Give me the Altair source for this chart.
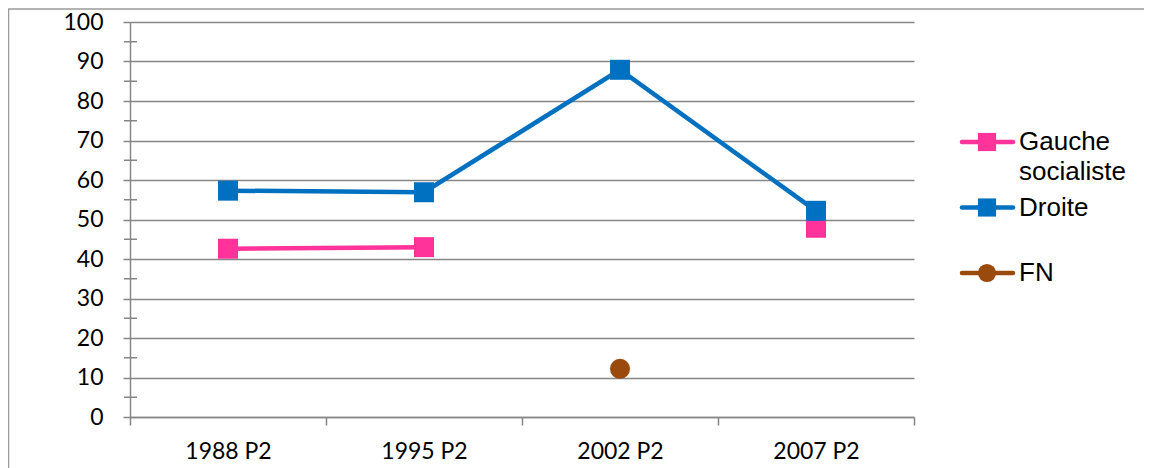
import altair as alt
import pandas as pd

categories = ["1988 P2", "1995 P2", "2002 P2", "2007 P2"]
series_names = ["Gauche socialiste", "Droite", "FN"]
gauche = [42.6, 43.0, None, 47.9]
droite = [57.3, 56.9, 87.9, 52.2]
fn = [None, None, 12.2, None]
colors = ["#FF3399", "#0070C0", "#9A4A0C"]
marker_shapes = ["square", "square", "circle"]
y_ticks = list(range(0, 101, 10))
minor_ticks = list(range(5, 100, 10))

rows = []
for name, vals in zip(series_names, [gauche, droite, fn]):
    seg = 0
    for c, v in zip(categories, vals):
        if v is None:
            seg += 1
            continue
        rows.append({"cat": c, "series": name, "value": v, "seg": f"{name}-{seg}"})
df = pd.DataFrame(rows)
legend_df = pd.DataFrame({"series": series_names})

GRID = "#868686"
AXIS_FONT = "Lato"

xscale = alt.Scale(type="band", domain=categories, paddingInner=0, paddingOuter=0)
yscale = alt.Scale(domain=[0, 100], nice=False, zero=True)

x_enc = alt.X(
    "cat:N", scale=xscale, sort=categories,
    axis=alt.Axis(title=None, labelAngle=0, tickBand="extent", ticks=True,
                  tickSize=8, tickColor=GRID, tickWidth=1.5,
                  domainColor=GRID, domainWidth=1.5, grid=False,
                  labelFont=AXIS_FONT, labelFontSize=23, labelColor="#000000",
                  labelPadding=15),
)
y_axis = alt.Axis(title=None, values=y_ticks, grid=True, gridColor=GRID, gridWidth=1.5,
                  tickSize=7, tickColor=GRID, tickWidth=1.5,
                  domainColor=GRID, domainWidth=1.5,
                  labelFont=AXIS_FONT, labelFontSize=23, labelColor="#000000",
                  labelPadding=20)

color_scale = alt.Scale(domain=series_names, range=colors)
shape_scale = alt.Scale(domain=series_names, range=marker_shapes)

lines = alt.Chart(df).mark_line(strokeWidth=4.5, strokeCap="round").encode(
    x=x_enc,
    y=alt.Y("value:Q", scale=yscale, axis=y_axis),
    color=alt.Color("series:N", scale=color_scale, legend=None),
    detail="seg:N",
)

markers = alt.Chart(df).mark_point(filled=True, size=400, opacity=1).encode(
    x=x_enc,
    y=alt.Y("value:Q", scale=yscale, axis=None),
    color=alt.Color("series:N", scale=color_scale, legend=None),
    shape=alt.Shape("series:N", scale=shape_scale, legend=None),
)

minor = alt.Chart(pd.DataFrame({"v": minor_ticks})).mark_rule(color=GRID, strokeWidth=1.5).encode(
    y=alt.Y("v:Q", scale=yscale, axis=None),
    x=alt.value(-6), x2=alt.value(7),
)

# legend drawn from the series list
leg_y = alt.Y("series:N", scale=alt.Scale(type="point", domain=series_names,
                                          range=[120, 251], padding=0), axis=None)

leg_lines = alt.Chart(legend_df).mark_rule(strokeWidth=4.5, strokeCap="round").encode(
    y=leg_y, x=alt.value(832), x2=alt.value(883),
    color=alt.Color("series:N", scale=color_scale, legend=None),
)
leg_marks = alt.Chart(legend_df).mark_point(filled=True, size=330, opacity=1).encode(
    y=leg_y, x=alt.value(857),
    color=alt.Color("series:N", scale=color_scale, legend=None),
    shape=alt.Shape("series:N", scale=shape_scale, legend=None),
)
leg_text = alt.Chart(legend_df).mark_text(
    align="left", baseline="middle", font="Liberation Sans", fontSize=26,
    lineBreak=" ", lineHeight=30, color="#000000",
).encode(
    y=leg_y, x=alt.value(889), text="series:N",
)

frame = alt.Chart(pd.DataFrame({"a": [0]})).mark_rect(
    fillOpacity=0, stroke="#9a9a9a", strokeWidth=1.5
).encode(
    x=alt.value(-121.5), x2=alt.value(1100), y=alt.value(-13), y2=alt.value(600),
)

chart = alt.layer(
    lines, minor, markers, leg_lines, leg_marks, leg_text, frame
).resolve_scale(y="independent").properties(
    width=784, height=395,
    autosize=alt.AutoSizeParams(type="none"),
    padding={"left": 122, "top": 14, "right": 230, "bottom": 52},
).configure(background="#ffffff", view=alt.ViewConfig(stroke=None))

chart.save("out.html", embed_options={"renderer": "svg", "actions": False})
